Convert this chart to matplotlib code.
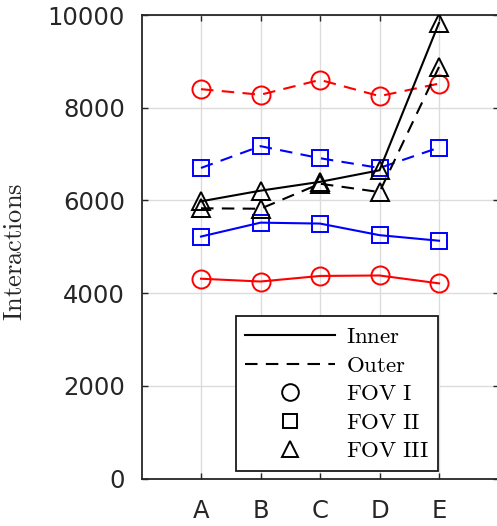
import matplotlib
matplotlib.use("Agg")
import matplotlib.pyplot as plt
from matplotlib.lines import Line2D

plt.rcParams['mathtext.fontset'] = 'cm'

categories = ['A', 'B', 'C', 'D', 'E']
x_pos = [1, 2, 3, 4, 5]

inner_fov1 = [4310, 4250, 4370, 4380, 4210]
outer_fov1 = [8400, 8280, 8600, 8250, 8520]
inner_fov2 = [5220, 5520, 5500, 5250, 5130]
outer_fov2 = [6700, 7170, 6910, 6700, 7140]
inner_fov3 = [5980, 6210, 6400, 6650, 9830]
outer_fov3 = [5830, 5820, 6360, 6180, 8880]

y_ticks = [0, 2000, 4000, 6000, 8000, 10000]
legend_labels = ['Inner', 'Outer', 'FOV I', 'FOV II', 'FOV III']

fig = plt.figure(figsize=(4.97, 5.26), dpi=100)
ax = fig.add_axes([141.5/497, 1 - 478.5/526, 357/497, 463.5/526])

lw = 1.5
mew = 1.4
dash = (0, (6, 4))
series = [
    (inner_fov1, 'r', '-', 'o', 13),
    (outer_fov1, 'r', dash, 'o', 13),
    (inner_fov2, 'b', '-', 's', 11),
    (outer_fov2, 'b', dash, 's', 11),
    (inner_fov3, 'k', '-', '^', 13),
    (outer_fov3, 'k', dash, '^', 13),
]
for vals, c, ls, m, ms in series:
    ax.plot(x_pos, vals, color=c, linestyle=ls, linewidth=lw, marker=m,
            markersize=ms, markerfacecolor='none', markeredgecolor=c,
            markeredgewidth=mew, zorder=3)

ax.set_xlim(0, 6)
ax.set_ylim(0, 10000)
ax.set_xticks(x_pos)
ax.set_xticklabels(categories)
ax.set_yticks(y_ticks)
ax.set_yticklabels([str(v) for v in y_ticks])

for lab in ax.get_xticklabels() + ax.get_yticklabels():
    lab.set_fontfamily('DejaVu Sans')
    lab.set_fontsize(17.5)
    lab.set_color('#262626')

ax.tick_params(direction='in', length=4, width=1.0, color='#262626',
               top=True, right=True, pad=12)
ax.tick_params(axis='x', pad=15)
ax.grid(True, color='#dcdcdc', linewidth=1.0, zorder=0)
ax.set_axisbelow(True)
for sp in ax.spines.values():
    sp.set_color('#262626')
    sp.set_linewidth(1.3)

ax.set_ylabel(r'$\mathrm{Interactions}$', fontsize=19, color='#262626')
ax.yaxis.set_label_coords((28 - 141.5)/357, (478.5 - 252)/463.5)

handles = [
    Line2D([], [], color='k', linestyle='-', linewidth=lw),
    Line2D([], [], color='k', linestyle=dash, linewidth=lw),
    Line2D([], [], color='k', linestyle='none', marker='o', markersize=12,
           markerfacecolor='none', markeredgewidth=mew),
    Line2D([], [], color='k', linestyle='none', marker='s', markersize=10,
           markerfacecolor='none', markeredgewidth=mew),
    Line2D([], [], color='k', linestyle='none', marker='^', markersize=12,
           markerfacecolor='none', markeredgewidth=mew),
]
labels = [r'$\mathrm{' + s.replace(' ', r'\ ') + '}$' for s in legend_labels]
leg = ax.legend(handles, labels, loc='upper left',
                bbox_to_anchor=((236 - 141.5)/357, (478.5 - 316)/463.5),
                borderaxespad=0, fancybox=False, framealpha=1,
                edgecolor='#1a1a1a', fontsize=16.5, handlelength=3.9,
                handletextpad=0.5, borderpad=0.4, labelspacing=0.24)
leg.get_frame().set_linewidth(1.3)
leg.set_zorder(5)

fig.savefig('out.png', dpi=100)
